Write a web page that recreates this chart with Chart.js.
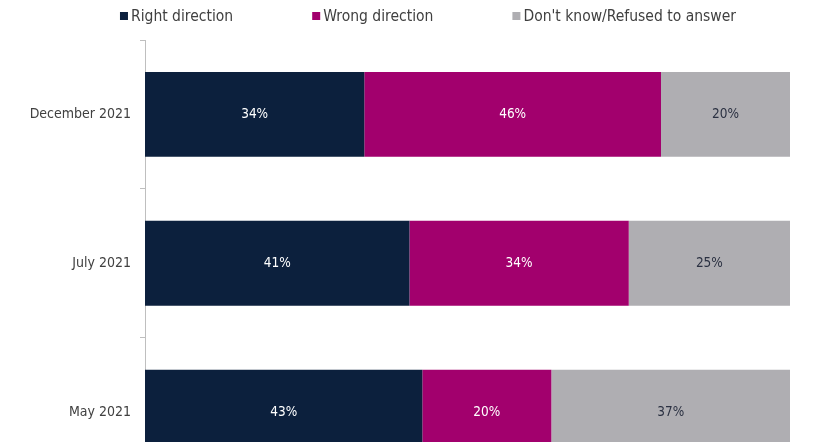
<!DOCTYPE html>
<html>
<head>
<meta charset="utf-8">
<script src="https://cdn.jsdelivr.net/npm/chart.js@4/dist/chart.umd.min.js"></script>
<style>
  html, body { margin: 0; padding: 0; background: #fff; overflow: hidden; }
  #myChart { display: block; }
</style>
</head>
<body>
<canvas id="myChart" width="840" height="504"></canvas>
<script>
const FONT = "'DejaVu Sans Condensed', 'DejaVu Sans', sans-serif";

const categories = ['December 2021', 'July 2021', 'May 2021'];
const seriesNames = ['Right direction', 'Wrong direction', "Don't know/Refused to answer"];
const rightDir = [34, 41, 43];
const wrongDir = [46, 34, 20];
const dontKnow = [20, 25, 37];
const colors = ['#0c203d', '#a2006d', '#afaeb2'];
const labelColors = ['#ffffff', '#ffffff', '#2b3142'];

// legend drawn by hand so the wide gaps between items can be kept
const topLegend = {
  id: 'topLegend',
  afterDraw(chart) {
    const ctx = chart.ctx;
    ctx.save();
    ctx.font = '15.5px ' + FONT;
    ctx.textBaseline = 'middle';
    const gap = 79, box = 8, boxGap = 3;
    const widths = chart.data.datasets.map(d => box + boxGap + ctx.measureText(d.label).width);
    const total = widths.reduce((a, b) => a + b, 0) + gap * (widths.length - 1);
    let x = 428 - total / 2;
    const y = 16;
    chart.data.datasets.forEach((d, i) => {
      ctx.fillStyle = d.backgroundColor;
      ctx.fillRect(x, y - box / 2, box, box);
      ctx.fillStyle = '#404040';
      ctx.fillText(d.label, x + box + boxGap, y + 1);
      x += widths[i] + gap;
    });
    ctx.restore();
  }
};

// percentage labels in the middle of each segment
const segLabels = {
  id: 'segLabels',
  afterDatasetsDraw(chart) {
    const ctx = chart.ctx;
    ctx.save();
    ctx.font = '13.5px ' + FONT;
    ctx.textAlign = 'center';
    ctx.textBaseline = 'middle';
    chart.data.datasets.forEach((d, i) => {
      const meta = chart.getDatasetMeta(i);
      meta.data.forEach((bar, j) => {
        const c = bar.getCenterPoint();
        ctx.fillStyle = labelColors[i];
        ctx.fillText(d.data[j] + '%', c.x, c.y);
      });
    });
    ctx.restore();
  }
};

const ctx = document.getElementById('myChart');

new Chart(ctx, {
  type: 'bar',
  data: {
    labels: categories,
    datasets: [
      { label: seriesNames[0], data: rightDir, backgroundColor: colors[0] },
      { label: seriesNames[1], data: wrongDir, backgroundColor: colors[1] },
      { label: seriesNames[2], data: dontKnow, backgroundColor: colors[2] }
    ]
  },
  options: {
    indexAxis: 'y',
    responsive: false,
    animation: false,
    devicePixelRatio: 1,
    categoryPercentage: 0.57,
    barPercentage: 1,
    layout: { padding: { top: 40, right: 50, bottom: 0, left: 0 } },
    plugins: {
      legend: { display: false },
      tooltip: { enabled: false }
    },
    scales: {
      x: {
        stacked: true,
        display: false,
        min: 0,
        max: 100
      },
      y: {
        stacked: true,
        afterFit(scale) { scale.width = 145; },
        grid: {
          drawOnChartArea: false,
          tickLength: 5,
          color: '#bfbfbf'
        },
        border: { color: '#bfbfbf' },
        ticks: {
          color: '#404040',
          padding: 9,
          font: { family: FONT, size: 14 }
        }
      }
    }
  },
  plugins: [topLegend, segLabels]
});
</script>
</body>
</html>
